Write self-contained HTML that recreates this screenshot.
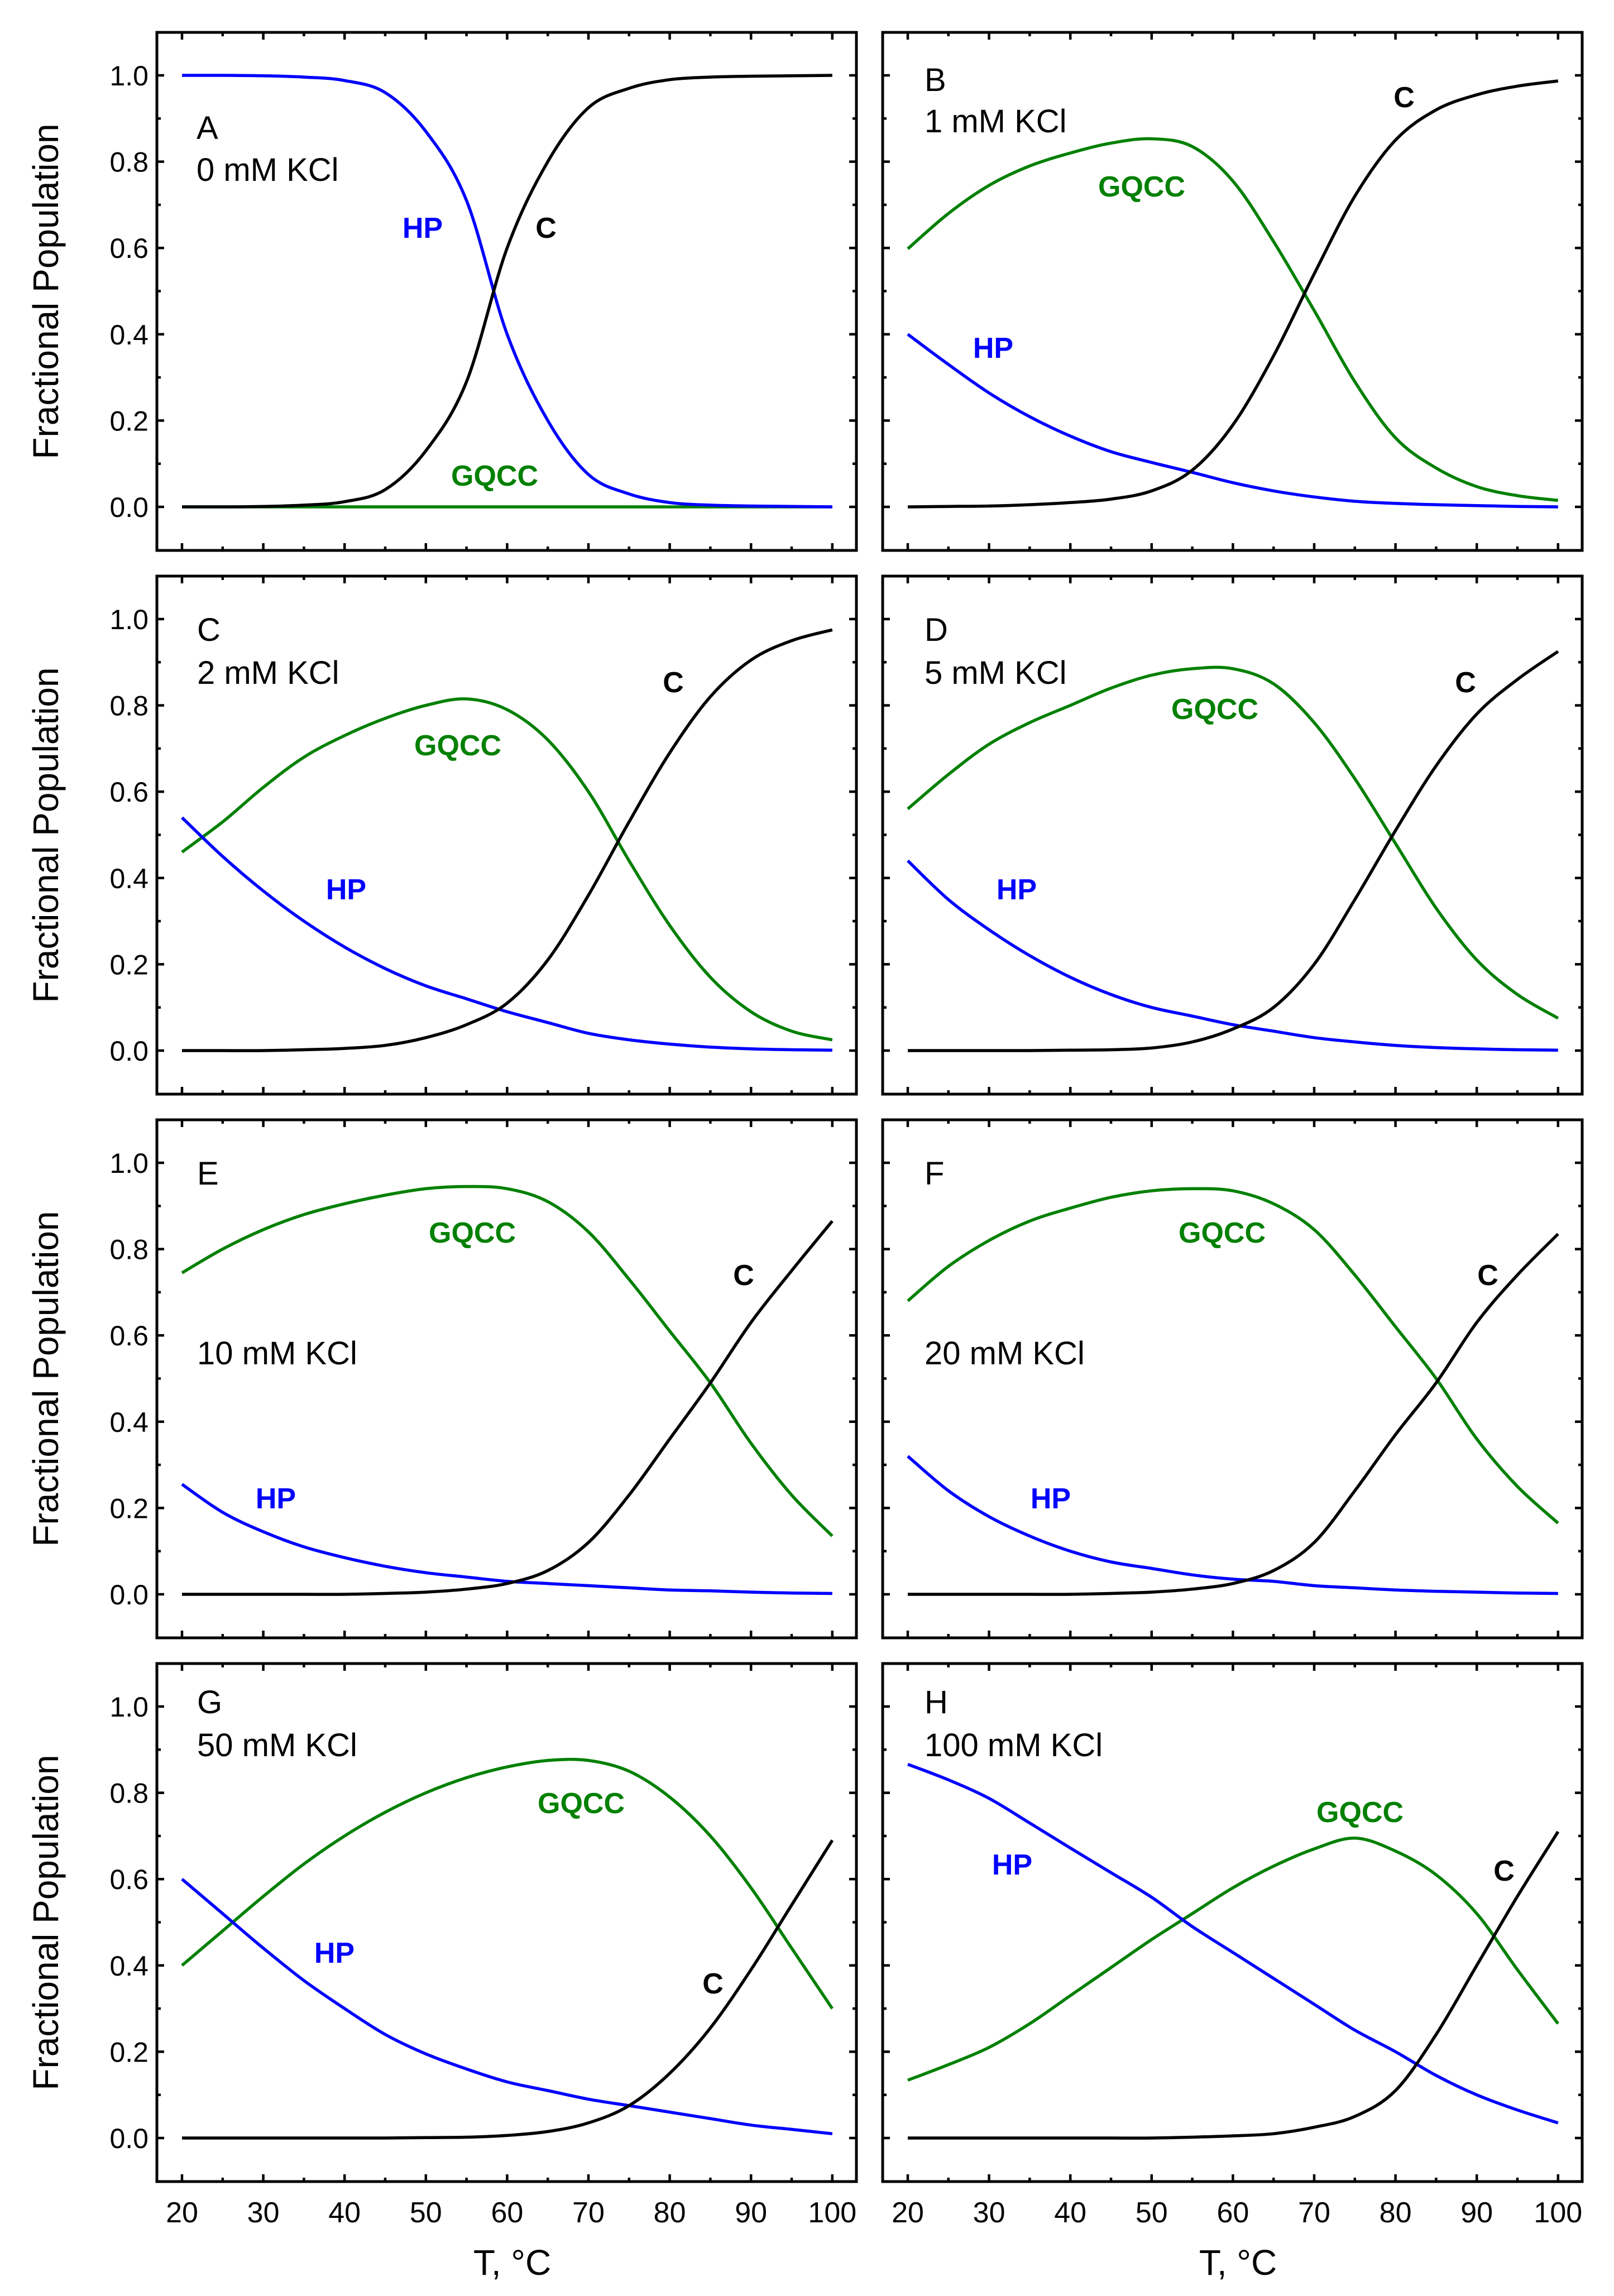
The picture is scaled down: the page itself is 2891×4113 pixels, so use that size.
<!DOCTYPE html>
<html><head><meta charset="utf-8">
<style>
html,body{margin:0;padding:0;background:#fff;}
svg{display:block;}
text{font-family:"Liberation Sans",Arial,sans-serif;}
</style></head>
<body>
<svg id="fig" xmlns="http://www.w3.org/2000/svg" width="2891" height="4113" viewBox="0 0 2891 4113"></svg>
<script>
// ---- data ----
const temps = [20,25,30,35,40,45,50,55,60,65,70,75,80,85,90,95,100];
const hpA = [1,1,0.999,0.996,0.988,0.96,0.87,0.71,0.40,0.20,0.075,0.03,0.01,0.004,0.002,0.001,0];
const cA = [0,0,0.001,0.004,0.012,0.04,0.13,0.29,0.60,0.80,0.925,0.97,0.99,0.996,0.998,0.999,1];
const gqA = [0,0,0,0,0,0,0,0,0,0,0,0,0,0,0,0,0];
const gqB = [0.598,0.68,0.745,0.79,0.82,0.843,0.853,0.835,0.755,0.615,0.455,0.29,0.16,0.09,0.047,0.026,0.015];
const hpB = [0.40,0.33,0.264,0.209,0.164,0.128,0.103,0.08,0.056,0.037,0.023,0.013,0.008,0.005,0.003,0.001,0];
const cB = [0,0.001,0.002,0.005,0.01,0.018,0.037,0.085,0.19,0.35,0.54,0.72,0.85,0.92,0.955,0.975,0.987];
const gqC = [0.46,0.53,0.61,0.68,0.73,0.77,0.80,0.815,0.79,0.72,0.60,0.44,0.29,0.17,0.09,0.045,0.025];
const hpC = [0.54,0.45,0.37,0.30,0.24,0.19,0.15,0.12,0.09,0.065,0.04,0.025,0.015,0.008,0.004,0.002,0.001];
const cC = [0,0,0,0.002,0.005,0.012,0.03,0.06,0.11,0.21,0.36,0.53,0.69,0.82,0.905,0.95,0.975];
const gqD = [0.56,0.64,0.71,0.76,0.80,0.84,0.87,0.885,0.885,0.85,0.76,0.63,0.48,0.33,0.21,0.13,0.075];
const hpD = [0.44,0.35,0.28,0.22,0.17,0.13,0.10,0.08,0.06,0.045,0.03,0.02,0.012,0.007,0.004,0.002,0.001];
const cD = [0,0,0,0,0.001,0.002,0.006,0.02,0.05,0.10,0.20,0.35,0.51,0.66,0.78,0.86,0.925];
const gqE = [0.745,0.80,0.845,0.88,0.905,0.925,0.94,0.945,0.94,0.91,0.84,0.73,0.61,0.49,0.35,0.23,0.135];
const hpE = [0.255,0.19,0.145,0.11,0.085,0.065,0.05,0.04,0.03,0.025,0.02,0.015,0.01,0.008,0.005,0.003,0.002];
const cE = [0,0,0,0,0,0.002,0.005,0.012,0.025,0.055,0.12,0.23,0.36,0.49,0.63,0.75,0.865];
const gqF = [0.68,0.76,0.82,0.865,0.895,0.92,0.935,0.94,0.935,0.905,0.845,0.74,0.62,0.50,0.36,0.25,0.165];
const hpF = [0.32,0.24,0.18,0.135,0.10,0.075,0.06,0.045,0.035,0.03,0.02,0.015,0.01,0.007,0.005,0.003,0.002];
const cF = [0,0,0,0,0,0.002,0.005,0.012,0.025,0.055,0.12,0.24,0.37,0.49,0.63,0.74,0.835];
const gqG = [0.40,0.48,0.56,0.635,0.70,0.755,0.80,0.835,0.86,0.875,0.875,0.85,0.79,0.70,0.58,0.44,0.30];
const hpG = [0.60,0.52,0.44,0.365,0.30,0.24,0.195,0.16,0.13,0.11,0.09,0.075,0.06,0.045,0.03,0.02,0.01];
const cG = [0,0,0,0,0,0,0.001,0.002,0.006,0.015,0.035,0.075,0.15,0.255,0.39,0.54,0.69];
const gqH = [0.134,0.17,0.21,0.265,0.33,0.395,0.46,0.52,0.58,0.63,0.67,0.695,0.665,0.61,0.52,0.39,0.265];
const hpH = [0.866,0.83,0.787,0.73,0.672,0.615,0.558,0.49,0.43,0.37,0.31,0.25,0.20,0.145,0.10,0.065,0.035];
const cH = [0,0,0,0,0,0,0,0.002,0.005,0.01,0.025,0.05,0.11,0.24,0.40,0.56,0.71];
const xTicks = [20,30,40,50,60,70,80,90,100];
const yTicks = [0,0.2,0.4,0.6,0.8,1.0];
const yTickLabels = ["0.0","0.2","0.4","0.6","0.8","1.0"];
const panelLetters = ["A","B","C","D","E","F","G","H"];
const panelSalts = ["0 mM KCl","1 mM KCl","2 mM KCl","5 mM KCl","10 mM KCl","20 mM KCl","50 mM KCl","100 mM KCl"];

const NS = "http://www.w3.org/2000/svg";
const svg = document.getElementById('fig');
function mk(tag, attrs, parent){const e=document.createElementNS(NS,tag);for(const k in attrs)e.setAttribute(k,attrs[k]);(parent||svg).appendChild(e);return e;}

const PW=1253, PH=928;
const colX=[281,1581];
const rowY=r=>58+r*974;
const COLORS={gq:"#008000",hp:"#0000ff",c:"#000000"};

const panels=[
 {gq:gqA,hp:hpA,c:cA, lab:{hp:[757,426],c:[978,426],gq:[886,870]}, l1:249, l2:324, lx:352},
 {gq:gqB,hp:hpB,c:cB, lab:{c:[2515,192],gq:[2045,352],hp:[1779,641]}, l1:163, l2:237, lx:1656},
 {gq:gqC,hp:hpC,c:cC, lab:{c:[1206,1240],gq:[820,1353],hp:[620,1611]}, l1:1148, l2:1225, lx:353},
 {gq:gqD,hp:hpD,c:cD, lab:{c:[2625,1240],gq:[2176,1288],hp:[1821,1611]}, l1:1148, l2:1225, lx:1656},
 {gq:gqE,hp:hpE,c:cE, lab:{gq:[846,2226],c:[1332,2302],hp:[494,2702]}, l1:2122, l2:2444, lx:353},
 {gq:gqF,hp:hpF,c:cF, lab:{gq:[2189,2226],c:[2665,2302],hp:[1882,2702]}, l1:2122, l2:2444, lx:1656},
 {gq:gqG,hp:hpG,c:cG, lab:{gq:[1041,3248],hp:[599,3516],c:[1277,3571]}, l1:3069, l2:3146, lx:353},
 {gq:gqH,hp:hpH,c:cH, lab:{gq:[2436,3264],hp:[1813,3358],c:[2694,3369]}, l1:3069, l2:3146, lx:1656}
];

function smoothPath(pts){
  let d="M"+pts[0][0].toFixed(1)+","+pts[0][1].toFixed(1);
  for(let i=0;i<pts.length-1;i++){
    const p0=pts[Math.max(0,i-1)],p1=pts[i],p2=pts[i+1],p3=pts[Math.min(pts.length-1,i+2)];
    const c1x=p1[0]+(p2[0]-p0[0])/6,c1y=p1[1]+(p2[1]-p0[1])/6;
    const c2x=p2[0]-(p3[0]-p1[0])/6,c2y=p2[1]-(p3[1]-p1[1])/6;
    d+=" C"+c1x.toFixed(1)+","+c1y.toFixed(1)+" "+c2x.toFixed(1)+","+c2y.toFixed(1)+" "+p2[0].toFixed(1)+","+p2[1].toFixed(1);
  }
  return d;
}

panels.forEach((p,i)=>{
  const col=i%2,row=Math.floor(i/2);
  const L=colX[col],T=rowY(row);
  const sx=v=>L+45+(v-20)*14.56;
  const sy=v=>T+850-v*773;
  const g=mk('g',{});
  
  
  for(let t=20;t<=100;t+=5){
    const len=(t%10===0)?13:7;
    const x=sx(t);
    const tb=mk('line',{x1:x,x2:x,y1:T+PH,y2:T+PH-len,stroke:"#000","stroke-width":4.5},g);
    
    
    const tt=mk('line',{x1:x,x2:x,y1:T,y2:T+len,stroke:"#000","stroke-width":4.5},g);
    
    
  }
  for(let k=0;k<=10;k++){
    const v=k/10, len=(k%2===0)?13:7, y=sy(v);
    const tl=mk('line',{x1:L,x2:L+len,y1:y,y2:y,stroke:"#000","stroke-width":4.5},g);
    
    
    const tr=mk('line',{x1:L+PW,x2:L+PW-len,y1:y,y2:y,stroke:"#000","stroke-width":4.5},g);
    
    
  }
  [["gq","gqcc-curve"],["hp","hp-curve"],["c","c-curve"]].forEach(([k,nm])=>{
    const pts=temps.map((t,j)=>[sx(t),sy(p[k][j])]);
    const path=mk('path',{d:smoothPath(pts),fill:"none",stroke:COLORS[k],"stroke-width":5.5,"stroke-linejoin":"round"},g);
    
    
  });
  const fr=mk('rect',{x:L,y:T,width:PW,height:PH,fill:"none",stroke:"#000","stroke-width":5},g);
  
  
  const t1=mk('text',{x:p.lx,y:p.l1,"font-size":58},g); t1.textContent=panelLetters[i];
  
  
  const t2=mk('text',{x:p.lx,y:p.l2,"font-size":58},g); t2.textContent=panelSalts[i];
  
  
  [["gq","GQCC"],["hp","HP"],["c","C"]].forEach(([k,txt])=>{
    const pos=p.lab[k];
    const tl=mk('text',{x:pos[0],y:pos[1],"font-size":52,"font-weight":"bold","text-anchor":"middle",fill:COLORS[k]},g);
    tl.textContent=txt;
    
    
  });
  if(col===0){
    yTicks.forEach((v,j)=>{
      const yl=mk('text',{x:266,y:sy(v)+18,"font-size":50,"text-anchor":"end"},g);
      yl.textContent=yTickLabels[j];
      
      
    });
    const cy=T+PH/2;
    const yt=mk('text',{x:0,y:0,"font-size":64,"text-anchor":"middle",transform:"translate(104,"+cy+") rotate(-90)"},g);
    yt.textContent="Fractional Population";
    
    
  }
  if(row===3){
    xTicks.forEach(t=>{
      const xl=mk('text',{x:sx(t),y:3981,"font-size":52,"text-anchor":"middle"},g);
      xl.textContent=String(t);
      
      
    });
    const xt=mk('text',{x:L+PW/2+10,y:4075,"font-size":64,"text-anchor":"middle"},g);
    xt.textContent="T, °C";
    
    
  }
});
</script>
</body></html>
